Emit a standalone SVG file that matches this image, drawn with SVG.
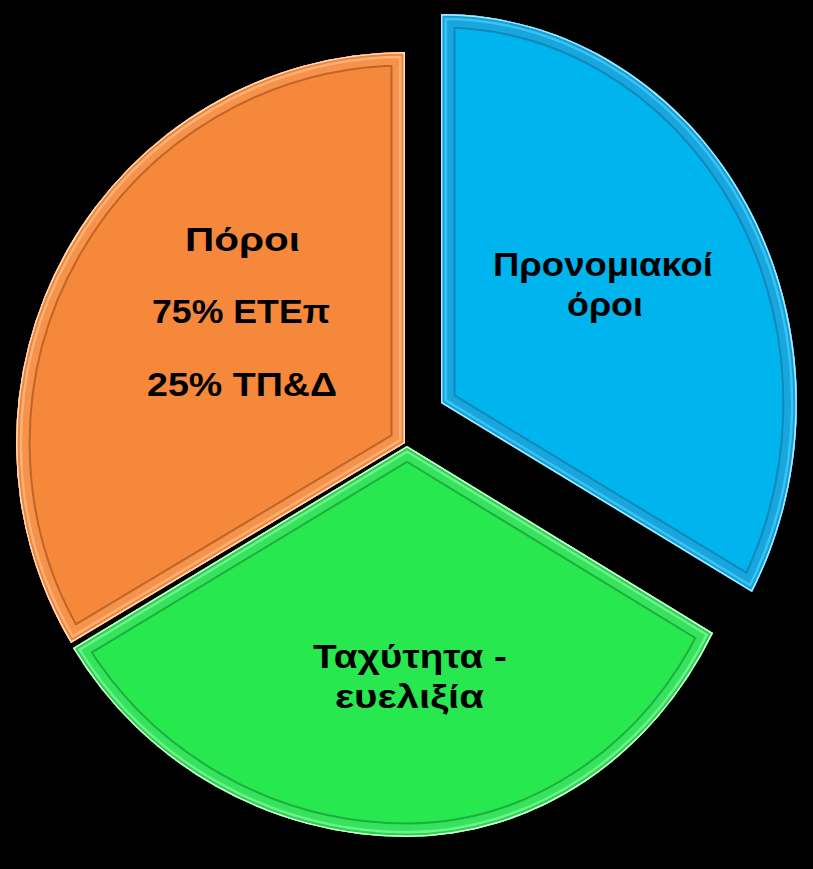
<svg xmlns="http://www.w3.org/2000/svg" width="813" height="869" viewBox="0 0 813 869">
  <defs>
    <path id="pO" d="M405,443 L405,52 A390,391 0 0 0 71,643 Z"/>
    <path id="pG" d="M407,446 L73,648 A391,391 0 0 0 407,837 A350,391 0 0 0 713,633 Z"/>
    <path id="pB" d="M441,403 L441,14 A356,389 0 0 1 752,592 Z"/>
    <clipPath id="cO"><use href="#pO"/></clipPath>
    <clipPath id="cG"><use href="#pG"/></clipPath>
    <clipPath id="cB"><use href="#pB"/></clipPath>
  </defs>
  <style>
    .edge { fill: none; stroke-linejoin: miter; stroke-miterlimit: 10; }
    .lbl { font-family: "Liberation Sans", Arial, sans-serif; font-weight: bold; font-size: 34px; fill: #000; text-anchor: middle; }
  </style>
  <rect width="813" height="869" fill="#000"/>

  <g id="node-poroi">
    <g clip-path="url(#cO)">
      <use href="#pO" fill="#F5883A"/>
      <use href="#pO" class="edge" stroke="#C0652A" stroke-width="29"/>
      <use href="#pO" class="edge" stroke="#F7924A" stroke-width="25"/>
      <use href="#pO" class="edge" stroke="#FBB27A" stroke-width="12"/>
      <use href="#pO" class="edge" stroke="#F38436" stroke-width="7"/>
      <use href="#pO" class="edge" stroke="#FCE0C0" stroke-width="3"/>
    </g>
    <text class="lbl" x="242.5" y="251" textLength="115" lengthAdjust="spacingAndGlyphs">Πόροι</text>
    <text class="lbl" x="241" y="323" textLength="178" lengthAdjust="spacingAndGlyphs">75% ΕΤΕπ</text>
    <text class="lbl" x="242" y="396" textLength="190" lengthAdjust="spacingAndGlyphs">25% ΤΠ&amp;Δ</text>
  </g>

  <g id="node-pronomiakoi">
    <g clip-path="url(#cB)">
      <use href="#pB" fill="#00B4EE"/>
      <use href="#pB" class="edge" stroke="#1088BA" stroke-width="29"/>
      <use href="#pB" class="edge" stroke="#18A6DE" stroke-width="25"/>
      <use href="#pB" class="edge" stroke="#3CC2F2" stroke-width="12"/>
      <use href="#pB" class="edge" stroke="#12A0D8" stroke-width="7"/>
      <use href="#pB" class="edge" stroke="#A8ECFF" stroke-width="3"/>
    </g>
    <text class="lbl" x="603" y="276" textLength="220" lengthAdjust="spacingAndGlyphs">Προνομιακοί</text>
    <text class="lbl" x="605" y="316" textLength="76" lengthAdjust="spacingAndGlyphs">όροι</text>
  </g>

  <g id="node-taxythta">
    <g clip-path="url(#cG)">
      <use href="#pG" fill="#28E84F"/>
      <use href="#pG" class="edge" stroke="#1EAE3E" stroke-width="29"/>
      <use href="#pG" class="edge" stroke="#36E35C" stroke-width="25"/>
      <use href="#pG" class="edge" stroke="#6EF08A" stroke-width="12"/>
      <use href="#pG" class="edge" stroke="#2CD24F" stroke-width="7"/>
      <use href="#pG" class="edge" stroke="#D4FFDD" stroke-width="3"/>
    </g>
    <text class="lbl" x="410" y="668" textLength="194" lengthAdjust="spacingAndGlyphs">Ταχύτητα -</text>
    <text class="lbl" x="409.5" y="708" textLength="149" lengthAdjust="spacingAndGlyphs">ευελιξία</text>
  </g>
</svg>
